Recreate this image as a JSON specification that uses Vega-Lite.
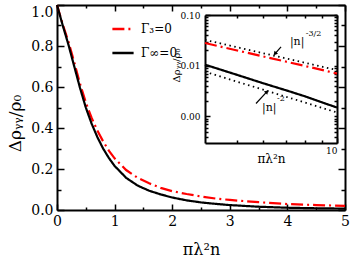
{
  "$schema": "https://vega.github.io/schema/vega-lite/v6.json",
  "width": 288,
  "height": 205,
  "autosize": {"type": "none"},
  "padding": {"left": 57, "top": 5, "right": 8, "bottom": 47},
  "config": {
    "font": "DejaVu Serif",
    "view": {"stroke": null},
    "text": {"font": "DejaVu Serif"},
    "legend": {"labelFont": "DejaVu Serif"},
    "axis": {"labelFont": "DejaVu Serif", "titleFont": "DejaVu Serif", "grid": false, "labelColor": "black", "titleColor": "black", "tickColor": "black", "domainColor": "black", "titleFontWeight": "normal", "labelFlush": false, "labelOverlap": false, "labelBound": false, "tickWidth": 1.5}
  },
  "datasets": {
    "main": [
      {"x": 0, "y": 1.0, "series": "Γ₃=0"}, {"x": 0.1, "y": 0.905, "series": "Γ₃=0"}, {"x": 0.2, "y": 0.82, "series": "Γ₃=0"}, {"x": 0.3, "y": 0.72, "series": "Γ₃=0"}, {"x": 0.4, "y": 0.615, "series": "Γ₃=0"}, {"x": 0.5, "y": 0.525, "series": "Γ₃=0"}, {"x": 0.6, "y": 0.45, "series": "Γ₃=0"}, {"x": 0.7, "y": 0.388, "series": "Γ₃=0"}, {"x": 0.8, "y": 0.335, "series": "Γ₃=0"}, {"x": 0.9, "y": 0.29, "series": "Γ₃=0"}, {"x": 1.0, "y": 0.252, "series": "Γ₃=0"}, {"x": 1.2, "y": 0.195, "series": "Γ₃=0"}, {"x": 1.4, "y": 0.157, "series": "Γ₃=0"}, {"x": 1.6, "y": 0.13, "series": "Γ₃=0"}, {"x": 1.8, "y": 0.108, "series": "Γ₃=0"}, {"x": 2.0, "y": 0.092, "series": "Γ₃=0"}, {"x": 2.25, "y": 0.078, "series": "Γ₃=0"}, {"x": 2.5, "y": 0.066, "series": "Γ₃=0"}, {"x": 2.75, "y": 0.056, "series": "Γ₃=0"}, {"x": 3.0, "y": 0.049, "series": "Γ₃=0"}, {"x": 3.5, "y": 0.038, "series": "Γ₃=0"}, {"x": 4.0, "y": 0.029, "series": "Γ₃=0"}, {"x": 4.5, "y": 0.024, "series": "Γ₃=0"}, {"x": 5.0, "y": 0.02, "series": "Γ₃=0"},
      {"x": 0, "y": 1.0, "series": "Γ∞=0"}, {"x": 0.1, "y": 0.9, "series": "Γ∞=0"}, {"x": 0.2, "y": 0.805, "series": "Γ∞=0"}, {"x": 0.3, "y": 0.7, "series": "Γ∞=0"}, {"x": 0.4, "y": 0.595, "series": "Γ∞=0"}, {"x": 0.5, "y": 0.5, "series": "Γ∞=0"}, {"x": 0.6, "y": 0.422, "series": "Γ∞=0"}, {"x": 0.7, "y": 0.356, "series": "Γ∞=0"}, {"x": 0.8, "y": 0.3, "series": "Γ∞=0"}, {"x": 0.9, "y": 0.254, "series": "Γ∞=0"}, {"x": 1.0, "y": 0.215, "series": "Γ∞=0"}, {"x": 1.2, "y": 0.157, "series": "Γ∞=0"}, {"x": 1.4, "y": 0.119, "series": "Γ∞=0"}, {"x": 1.6, "y": 0.094, "series": "Γ∞=0"}, {"x": 1.8, "y": 0.076, "series": "Γ∞=0"}, {"x": 2.0, "y": 0.061, "series": "Γ∞=0"}, {"x": 2.25, "y": 0.047, "series": "Γ∞=0"}, {"x": 2.5, "y": 0.037, "series": "Γ∞=0"}, {"x": 2.75, "y": 0.03, "series": "Γ∞=0"}, {"x": 3.0, "y": 0.024, "series": "Γ∞=0"}, {"x": 3.5, "y": 0.016, "series": "Γ∞=0"}, {"x": 4.0, "y": 0.011, "series": "Γ∞=0"}, {"x": 4.5, "y": 0.0085, "series": "Γ∞=0"}, {"x": 5.0, "y": 0.0068, "series": "Γ∞=0"}
    ],
    "inset": [
      {"x": 4, "y": 0.028, "series": "Γ₃=0"}, {"x": 5, "y": 0.02, "series": "Γ₃=0"}, {"x": 6, "y": 0.0152, "series": "Γ₃=0"}, {"x": 7, "y": 0.0121, "series": "Γ₃=0"}, {"x": 8, "y": 0.0099, "series": "Γ₃=0"}, {"x": 9, "y": 0.0083, "series": "Γ₃=0"}, {"x": 10, "y": 0.007, "series": "Γ₃=0"},
      {"x": 4, "y": 0.0105, "series": "Γ∞=0"}, {"x": 5, "y": 0.0066, "series": "Γ∞=0"}, {"x": 6, "y": 0.0045, "series": "Γ∞=0"}, {"x": 7, "y": 0.0033, "series": "Γ∞=0"}, {"x": 8, "y": 0.0025, "series": "Γ∞=0"}, {"x": 9, "y": 0.0019, "series": "Γ∞=0"}, {"x": 10, "y": 0.0015, "series": "Γ∞=0"}
    ],
    "guides": [
      {"x": 4, "y": 0.0323, "g": "n32"}, {"x": 10, "y": 0.0082, "g": "n32"},
      {"x": 4, "y": 0.0076, "g": "n2"}, {"x": 10, "y": 0.0012, "g": "n2"}
    ],
    "notes": [
      {"x": 7.21, "y": 0.0296, "t": "|n|", "role": "base"},
      {"x": 8.05, "y": 0.0424, "t": "-3/2", "role": "sup"},
      {"x": 5.94, "y": 0.0015, "t": "|n|", "role": "base"},
      {"x": 6.59, "y": 0.00225, "t": "-2", "role": "sup"}
    ],
    "arrows": [
      {"x": 6.78, "y": 0.0236, "id": "a1", "part": "tail"}, {"x": 6.5, "y": 0.0172, "id": "a1", "part": "head"},
      {"x": 5.7, "y": 0.0018, "id": "a2", "part": "tail"}, {"x": 6.15, "y": 0.00309, "id": "a2", "part": "head"}
    ]
  },
  "layer": [
    {
      "data": {"name": "main"},
      "layer": [
        {
          "mark": {"type": "line", "strokeWidth": 2.2},
          "encoding": {
            "x": {"field": "x", "type": "quantitative", "scale": {"domain": [0, 5], "nice": false, "zero": false},
              "axis": {"orient": "bottom", "values": [0, 1, 2, 3, 4, 5], "format": "d", "tickSize": -6, "labelPadding": 10, "labelFontSize": 14, "domainWidth": 2, "title": "πλ²n", "titleFontSize": 16, "titleX": 144, "titleY": 44, "titleBaseline": "alphabetic", "titleAlign": "center"}},
            "y": {"field": "y", "type": "quantitative", "scale": {"domain": [0, 1], "nice": false, "zero": false},
              "axis": {"orient": "left", "values": [0, 0.2, 0.4, 0.6, 0.8, 1.0], "format": ".1f", "tickSize": -7, "labelPadding": 11, "labelFontSize": 14, "labelBaseline": {"condition": {"test": "datum.value === 1", "value": "top"}, "value": "middle"}, "domainWidth": 2, "title": "Δρᵧᵧ/ρ₀", "titleFontSize": 17, "titleX": -42, "titleY": 118, "titleAngle": -90, "titleBaseline": "middle", "titleAlign": "center"}},
            "color": {"field": "series", "type": "nominal", "scale": {"domain": ["Γ₃=0", "Γ∞=0"], "range": ["#ff0000", "#000000"]},
              "legend": {"orient": "none", "legendX": 54, "legendY": 12, "title": null, "symbolType": "stroke", "symbolSize": 450, "symbolStrokeWidth": 2.5, "labelFontSize": 12, "labelOffset": 6, "rowPadding": 6, "padding": 0}},
            "strokeDash": {"field": "series", "type": "nominal", "scale": {"domain": ["Γ₃=0", "Γ∞=0"], "range": [[12, 4, 2, 4], [1, 0]]},
              "legend": {"orient": "none", "legendX": 54, "legendY": 12, "title": null, "symbolType": "stroke", "symbolSize": 450, "symbolStrokeWidth": 2.5, "labelFontSize": 12, "labelOffset": 6, "rowPadding": 6, "padding": 0}}
          }
        },
        {
          "mark": {"type": "point", "opacity": 0},
          "encoding": {
            "x": {"field": "x", "type": "quantitative", "axis": {"orient": "bottom", "values": [0.5, 1.5, 2.5, 3.5, 4.5], "tickSize": -3, "labels": false, "domain": false, "title": null}},
            "y": {"field": "y", "type": "quantitative", "axis": {"orient": "left", "values": [0.1, 0.3, 0.5, 0.7, 0.9], "tickSize": -4, "labels": false, "domain": false, "title": null}}
          }
        },
        {
          "mark": {"type": "point", "opacity": 0},
          "encoding": {
            "x": {"field": "x", "type": "quantitative", "axis": {"orient": "top", "values": [0, 1, 2, 3, 4, 5], "tickSize": -6, "labels": false, "domainWidth": 2, "title": null}},
            "y": {"field": "y", "type": "quantitative", "axis": {"orient": "right", "values": [0, 0.2, 0.4, 0.6, 0.8, 1.0], "tickSize": -7, "labels": false, "domainWidth": 2, "title": null}}
          }
        },
        {
          "mark": {"type": "point", "opacity": 0},
          "encoding": {
            "x": {"field": "x", "type": "quantitative", "axis": {"orient": "top", "values": [0.5, 1.5, 2.5, 3.5, 4.5], "tickSize": -3, "labels": false, "domain": false, "title": null}},
            "y": {"field": "y", "type": "quantitative", "axis": {"orient": "right", "values": [0.1, 0.3, 0.5, 0.7, 0.9], "tickSize": -4, "labels": false, "domain": false, "title": null}}
          }
        }
      ],
      "resolve": {"axis": {"x": "independent", "y": "independent"}}
    },
    {
      "layer": [
        {
          "data": {"name": "inset"},
          "mark": {"type": "line", "strokeWidth": 2.2},
          "encoding": {
            "x": {"field": "x", "type": "quantitative", "scale": {"type": "log", "domain": [4, 10], "range": [148, 280], "nice": false},
              "axis": {"orient": "bottom", "offset": -67, "values": [10], "format": "d", "tickSize": -5, "labelPadding": 8, "labelFontSize": 9, "labelAlign": "right", "labelDx": 1, "domainWidth": 2, "title": "πλ²n", "titleFontSize": 12, "titleX": 214, "titleY": 19, "titleBaseline": "alphabetic", "titleAlign": "center"}},
            "y": {"field": "y", "type": "quantitative", "scale": {"type": "log", "domain": [0.0003, 0.1], "range": [138, 10], "nice": false},
              "axis": {"orient": "left", "offset": -148, "values": [0.1, 0.01, 0.001], "format": ".2f", "tickSize": -5, "labelPadding": 10, "labelFontSize": 9, "domainWidth": 2, "title": "Δρᵧᵧ/ρ₀", "titleFontSize": 10, "titleX": -29, "titleY": 60, "titleAngle": -90, "titleBaseline": "middle", "titleAlign": "center"}},
            "color": {"field": "series", "type": "nominal", "legend": null},
            "strokeDash": {"field": "series", "type": "nominal", "legend": null}
          }
        },
        {
          "data": {"name": "guides"},
          "mark": {"type": "line", "strokeDash": [1.5, 3.5], "strokeWidth": 1.8, "color": "black"},
          "encoding": {
            "x": {"field": "x", "type": "quantitative", "axis": {"orient": "bottom", "offset": -67, "values": [5, 6, 7, 8, 9], "tickSize": -3, "labels": false, "domain": false, "title": null}},
            "y": {"field": "y", "type": "quantitative", "axis": {"orient": "left", "offset": -148, "values": [0.0004, 0.0005, 0.0006, 0.0007, 0.0008, 0.0009, 0.002, 0.003, 0.004, 0.005, 0.006, 0.007, 0.008, 0.009, 0.02, 0.03, 0.04, 0.05, 0.06, 0.07, 0.08, 0.09], "tickSize": -3, "labels": false, "domain": false, "title": null}},
            "detail": {"field": "g", "type": "nominal"}
          }
        },
        {
          "data": {"name": "notes"},
          "transform": [{"filter": "datum.role === 'base'"}],
          "mark": {"type": "text", "fontSize": 11, "align": "left", "baseline": "middle", "color": "black"},
          "encoding": {
            "x": {"field": "x", "type": "quantitative", "axis": {"orient": "top", "offset": -10, "values": [5, 6, 7, 8, 9, 10], "tickSize": -3, "labels": false, "domainWidth": 2, "title": null}},
            "y": {"field": "y", "type": "quantitative", "axis": {"orient": "right", "offset": -8, "values": [0.0004, 0.0005, 0.0006, 0.0007, 0.0008, 0.0009, 0.001, 0.002, 0.003, 0.004, 0.005, 0.006, 0.007, 0.008, 0.009, 0.01, 0.02, 0.03, 0.04, 0.05, 0.06, 0.07, 0.08, 0.09, 0.1], "tickSize": -3, "labels": false, "domainWidth": 2, "title": null}},
            "text": {"field": "t", "type": "nominal"}
          }
        },
        {
          "data": {"name": "notes"},
          "transform": [{"filter": "datum.role === 'sup'"}],
          "mark": {"type": "text", "fontSize": 8, "align": "left", "baseline": "middle", "color": "black"},
          "encoding": {
            "x": {"field": "x", "type": "quantitative", "axis": null},
            "y": {"field": "y", "type": "quantitative", "axis": null},
            "text": {"field": "t", "type": "nominal"}
          }
        },
        {
          "data": {"name": "arrows"},
          "mark": {"type": "line", "strokeWidth": 1.2, "color": "black"},
          "encoding": {
            "x": {"field": "x", "type": "quantitative", "axis": null},
            "y": {"field": "y", "type": "quantitative", "axis": null},
            "detail": {"field": "id", "type": "nominal"}
          }
        },
        {
          "data": {"name": "arrows"},
          "transform": [{"filter": "datum.id === 'a1' && datum.part === 'head'"}],
          "mark": {"type": "point", "shape": "triangle-up", "filled": true, "color": "black", "opacity": 1, "size": 22, "angle": 221},
          "encoding": {
            "x": {"field": "x", "type": "quantitative", "axis": null},
            "y": {"field": "y", "type": "quantitative", "axis": null}
          }
        },
        {
          "data": {"name": "arrows"},
          "transform": [{"filter": "datum.id === 'a2' && datum.part === 'head'"}],
          "mark": {"type": "point", "shape": "triangle-up", "filled": true, "color": "black", "opacity": 1, "size": 22, "angle": 43},
          "encoding": {
            "x": {"field": "x", "type": "quantitative", "axis": null},
            "y": {"field": "y", "type": "quantitative", "axis": null}
          }
        }
      ],
      "resolve": {"axis": {"x": "independent", "y": "independent"}}
    }
  ],
  "resolve": {"scale": {"x": "independent", "y": "independent"}}
}
